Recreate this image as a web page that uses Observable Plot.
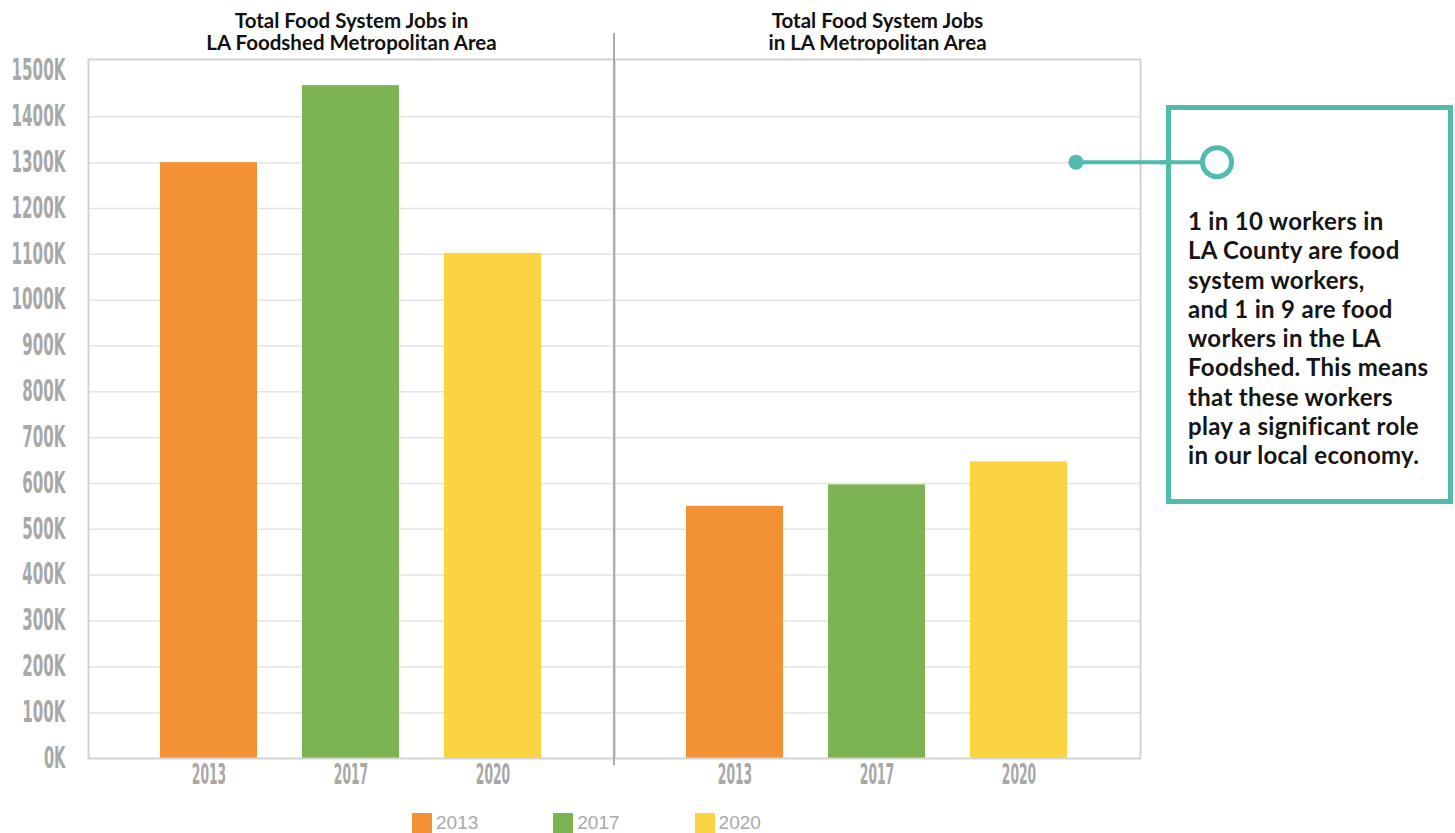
<!DOCTYPE html>
<html>
<head>
<meta charset="utf-8">
<script src="https://cdn.jsdelivr.net/npm/d3@7"></script>
<script src="https://cdn.jsdelivr.net/npm/@observablehq/plot@0.6"></script>
<style>
  html, body { margin: 0; background: #fff; }
  body { width: 1455px; height: 833px; position: relative; overflow: hidden; font-family: Lato, "Open Sans", sans-serif; }
  #chart { position: absolute; left: 0; top: 0; }
  #overlay { position: absolute; left: 0; top: 0; pointer-events: none; }
  #chart g[aria-label="y-axis tick label"] text,
  #chart g[aria-label="x-axis tick label"] text {
    font-family: "DejaVu Sans Condensed", "DejaVu Sans", sans-serif;
    font-weight: bold;
    fill: #a8a8a8;
  }
  #chart g[aria-label="y-axis tick label"] text { font-size: 31px; }
  #chart g[aria-label="x-axis tick label"] text { font-size: 29px; }
  .note {
    position: absolute; left: 1166px; top: 105px; width: 287px; height: 399px;
    box-sizing: border-box; border: 5px solid #52BBAE; background: #fff;
  }
  .note p {
    position: absolute; left: 17px; top: 96px; margin: 0; white-space: nowrap;
    font: 700 24px/29.25px Lato, "Open Sans", sans-serif; letter-spacing: 0.3px; color: #151515;
  }
  .legend {
    position: absolute; left: 412px; top: 813px; display: flex; gap: 75px;
    font: 19px/20px "Liberation Sans", Arial, sans-serif; color: #a9a9a9;
  }
  .legend span.item { display: flex; align-items: center; gap: 4px; }
  .legend span.sw { width: 20px; height: 20px; display: inline-block; }
</style>
</head>
<body>
<div id="chart"></div>
<svg id="overlay" width="1455" height="833"></svg>
<div class="note"><p>1 in 10 workers in<br>LA County are food<br>system workers,<br>and 1 in 9 are food<br>workers in the LA<br>Foodshed. This means<br>that these workers<br>play a significant role<br>in our local economy.</p></div>
<div class="legend" id="legend"></div>
<script>
// Survey years and the two geographies compared
const years = ["2013", "2017", "2020"];
const regions = ["LA Foodshed Metropolitan Area", "LA Metropolitan Area"];
const regionTitles = [
  "Total Food System Jobs in\nLA Foodshed Metropolitan Area",
  "Total Food System Jobs\nin LA Metropolitan Area"
];

// Total food system jobs, in thousands
const foodshedJobs = [1300, 1468, 1102];
const metroJobs = [550, 597, 647];

const yearColors = ["#F39234", "#7CB454", "#FCD341"];

// Axis ticks (thousands of jobs)
const yTicks = d3.range(0, 1501, 100);
const gridTicks = d3.range(100, 1401, 100);

const rows = [
  ...years.map((year, i) => ({region: regions[0], year, jobs: foodshedJobs[i]})),
  ...years.map((year, i) => ({region: regions[1], year, jobs: metroJobs[i]}))
];
const titles = regions.map((region, i) => ({region, title: regionTitles[i]}));

const chart = Plot.plot({
  width: 1455,
  height: 795,
  marginLeft: 87,
  marginRight: 315,
  marginTop: 59,
  marginBottom: 37,
  style: {background: "transparent"},
  fx: {domain: regions, padding: 0, axis: null},
  x: {domain: years, paddingInner: 0.315, paddingOuter: 0.497, tickSize: 0, tickPadding: 5, label: null},
  y: {domain: [0, 1525], ticks: yTicks, tickFormat: d => `${d}K`, tickSize: 0, tickPadding: 23, label: null},
  color: {domain: years, range: yearColors},
  marks: [
    Plot.gridY(gridTicks, {stroke: "#e4e4e4", strokeOpacity: 1, strokeWidth: 1.5}),
    Plot.barY(rows, {fx: "region", x: "year", y: "jobs", fill: "year"}),
    Plot.frame({stroke: "#d3d3d3", strokeWidth: 2}),
    Plot.text(titles, {
      fx: "region", text: "title", frameAnchor: "top", lineAnchor: "bottom",
      dy: -10, fontSize: 20.5, fontWeight: "bold", lineHeight: 1.07, fill: "#111",
      fontFamily: "Lato, 'Open Sans', sans-serif"
    })
  ]
});
document.getElementById("chart").appendChild(chart);

// Tall, condensed tick labels
chart.querySelectorAll('g[aria-label="y-axis tick label"] text').forEach(t => {
  t.setAttribute("textLength", t.textContent.length * 10.8);
  t.setAttribute("lengthAdjust", "spacingAndGlyphs");
  t.setAttribute("dy", "-0.02em");
});
chart.querySelectorAll('g[aria-label="x-axis tick label"] text').forEach(t => {
  t.setAttribute("textLength", t.textContent.length * 8.6);
  t.setAttribute("lengthAdjust", "spacingAndGlyphs");
});

// Divider between the two panels, and the callout connector
const fx = chart.scale("fx");
const y = chart.scale("y");
const overlay = d3.select("#overlay");
const dividerX = fx.apply(regions[1]);
overlay.append("line")
  .attr("x1", dividerX).attr("x2", dividerX)
  .attr("y1", 33).attr("y2", 765)
  .attr("stroke", "#ababab").attr("stroke-width", 2);

const frameRight = 1455 - 315;
const cy = y.apply(1300);
const teal = "#52BBAE";
overlay.append("line")
  .attr("x1", frameRight - 64).attr("x2", 1205)
  .attr("y1", cy).attr("y2", cy)
  .attr("stroke", teal).attr("stroke-width", 4);
overlay.append("circle")
  .attr("cx", frameRight - 64).attr("cy", cy).attr("r", 7.5).attr("fill", teal);

// Ring drawn above the note box
const ringSvg = d3.select("body").append("svg")
  .attr("width", 1455).attr("height", 833)
  .style("position", "absolute").style("left", 0).style("top", 0);
ringSvg.append("line")
  .attr("x1", 1160).attr("x2", 1205).attr("y1", cy).attr("y2", cy)
  .attr("stroke", teal).attr("stroke-width", 4);
ringSvg.append("circle")
  .attr("cx", 1217).attr("cy", cy).attr("r", 14.5)
  .attr("fill", "#fff").attr("stroke", teal).attr("stroke-width", 5);

// Legend
const legend = d3.select("#legend");
years.forEach((year, i) => {
  const item = legend.append("span").attr("class", "item");
  item.append("span").attr("class", "sw").style("background", yearColors[i]);
  item.append("span").text(year);
});
</script>
</body>
</html>
